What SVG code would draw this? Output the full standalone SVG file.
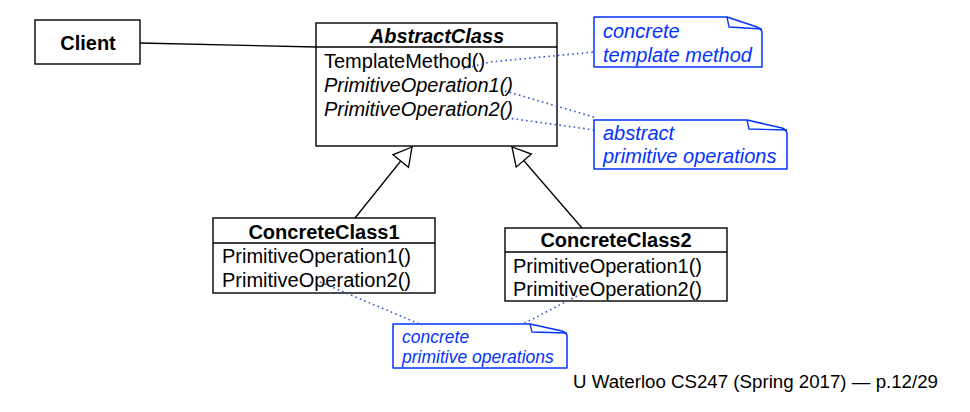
<svg xmlns="http://www.w3.org/2000/svg" width="970" height="412" viewBox="0 0 970 412">
<defs>
<style>
.box{fill:#fff;stroke:#000;stroke-width:1.4}
.div{stroke:#000;stroke-width:1.3}
.t{font-family:"Liberation Sans",Arial,sans-serif;font-size:20px;fill:#000}
.b{font-weight:bold}
.i{font-style:italic}
.c{text-anchor:middle}
.note{fill:#fff;stroke:#0433ff;stroke-width:1.5;stroke-linejoin:round}
.fold{fill:none;stroke:#0433ff;stroke-width:1.3;stroke-linejoin:round}
.nt{font-family:"Liberation Sans",Arial,sans-serif;font-size:20px;font-style:italic;fill:#0433ff}
.dot{stroke:#3a55c8;stroke-width:1.6;stroke-dasharray:1.6 3.2;fill:none}
.assoc{stroke:#000;stroke-width:1.3;fill:none}
.gen{stroke:#000;stroke-width:1.3;fill:none;marker-end:url(#tri)}
</style>
<marker id="tri" markerUnits="userSpaceOnUse" markerWidth="24" markerHeight="24" viewBox="-2 -12 24 24" refX="18" refY="0" orient="auto">
<path d="M18,0 L0,-10 L0,10 Z" fill="#fff" stroke="#000" stroke-width="1.3"/>
</marker>
</defs>
<g id="client">
<rect class="box" x="35" y="20" width="105" height="44"/>
<text class="t b c" x="88" y="50">Client</text>
</g>
<g id="abstractclass">
<rect class="box" x="316" y="23" width="241" height="123"/>
<line class="div" x1="316" y1="47" x2="557" y2="47"/>
<text class="t b i c" x="437" y="43">AbstractClass</text>
<text class="t" x="324" y="68">TemplateMethod()</text>
<text class="t i" x="324" y="92">PrimitiveOperation1()</text>
<text class="t i" x="324" y="116">PrimitiveOperation2()</text>
</g>
<g id="concreteclass1">
<rect class="box" x="213" y="218" width="222" height="75"/>
<line class="div" x1="213" y1="243" x2="435" y2="243"/>
<text class="t b c" x="324" y="239">ConcreteClass1</text>
<text class="t" x="222" y="263">PrimitiveOperation1()</text>
<text class="t" x="222" y="287">PrimitiveOperation2()</text>
</g>
<g id="concreteclass2">
<rect class="box" x="505" y="228" width="222" height="73"/>
<line class="div" x1="505" y1="252" x2="727" y2="252"/>
<text class="t b c" x="616" y="247">ConcreteClass2</text>
<text class="t" x="513" y="273">PrimitiveOperation1()</text>
<text class="t" x="513" y="296">PrimitiveOperation2()</text>
</g>
<g id="note-template">
<path class="note" d="M594,17 H727 L757,27 Q762,29 762,33 V67 H594 Z"/>
<path class="fold" d="M727,17 L729,27 L762,29"/>
<text class="nt" x="603" y="38">concrete</text>
<text class="nt" x="603" y="62">template method</text>
</g>
<g id="note-abstract">
<path class="note" d="M594,120 H747 L782,128 Q787,130 787,134 V169 H594 Z"/>
<path class="fold" d="M747,120 L749,129 L787,130"/>
<text class="nt" x="603" y="140">abstract</text>
<text class="nt" x="603" y="163">primitive operations</text>
</g>
<g id="note-concrete">
<path class="note" d="M393,324 H530 L562,331 Q567,333 567,336 V368 H393 Z"/>
<path class="fold" d="M530,324 L532,332 L567,333"/>
<text class="nt" x="402" y="343" style="font-size:17.5px">concrete</text>
<text class="nt" x="402" y="363" style="font-size:17.5px">primitive operations</text>
</g>
<g id="connectors">
<line class="assoc" x1="140" y1="43" x2="316" y2="47"/>
<line class="gen" x1="355" y1="218" x2="412" y2="147"/>
<line class="gen" x1="582" y1="228" x2="512" y2="147"/>
<polyline class="dot" points="463,69 490,62 594,52"/>
<line class="dot" x1="505" y1="91" x2="597" y2="118"/>
<line class="dot" x1="507" y1="118" x2="595" y2="130"/>
<line class="dot" x1="320" y1="282" x2="422" y2="325"/>
<line class="dot" x1="577" y1="296" x2="523" y2="324"/>
</g>
<g id="footer">
<text class="t" x="938" y="388" style="font-size:18.7px;text-anchor:end">U Waterloo CS247 (Spring 2017) — p.12/29</text>
</g>
</svg>
